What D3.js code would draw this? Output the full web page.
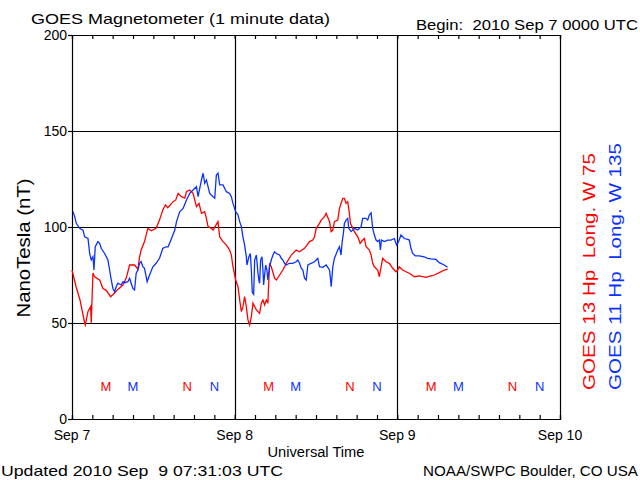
<!DOCTYPE html>
<html><head><meta charset="utf-8">
<script src="https://cdn.jsdelivr.net/npm/d3@7"></script>
<style>body{margin:0;background:#fff}svg{display:block}text{font-family:"Liberation Sans",Arial,sans-serif}</style>
</head><body><svg id="c" width="640" height="480"></svg>
<script>
// Hours since 2010 Sep 7 00:00 UTC
const hours13 = [0.0,0.59,1.18,1.47,1.87,1.96,2.36,2.75,2.84,3.09,3.34,4.08,4.56,5.05,5.70,6.29,6.77,7.51,8.0,8.50,9.23,9.72,9.97,10.20,10.70,11.19,11.68,12.41,12.91,13.40,13.80,14.13,14.92,15.31,15.65,16.15,16.64,16.89,17.37,17.86,18.36,18.74,19.10,19.58,19.83,20.07,20.57,20.81,21.54,21.79,22.28,22.78,23.26,23.51,23.75,24.15,24.49,24.74,24.99,25.22,25.47,25.72,25.96,26.21,26.46,26.70,27.20,27.68,27.93,28.17,28.42,28.67,28.90,29.15,29.40,29.89,30.14,30.63,31.11,31.61,32.35,33.08,33.57,34.31,35.04,35.53,35.78,36.03,36.52,36.76,37.25,37.50,37.99,38.24,38.48,38.72,39.21,39.46,39.95,40.19,40.44,40.68,40.93,41.08,41.42,41.67,42.16,42.51,42.89,43.14,43.39,43.88,44.13,44.37,44.61,45.10,45.35,45.60,45.84,46.34,46.82,47.31,47.81,48.05,48.29,48.78,49.28,49.77,50.50,51.24,52.23,52.96,53.45,54.19,54.92,55.41];
const values13 = [77.6,69,62,57,50,49,56,58.5,50,76,74,72.4,68,67,63.7,65.6,67.5,69.8,73.4,80.2,80.2,78,84.5,88,92.4,99.3,98,99.3,103.6,108.9,111.5,110,113.2,114.1,117.5,115.8,115,118.4,119.3,117.5,110.6,112.3,107.1,108,104.5,100.2,99.3,98.4,102.8,94.9,92.4,90.6,88,85.4,79.3,72.4,68.9,62,55.9,58.5,63.7,58.5,51.6,49,53.3,60.3,56.8,55,60.3,62,59.4,62,60.3,81.1,79.3,73.3,72.4,75,77.6,81.1,85.4,88,87.1,88.9,92.4,93.2,94.9,99.3,101.9,103.6,105.4,107.1,102.8,97.6,98.4,102.8,103.6,109.7,114.9,114.9,112.3,113.2,107.1,101.9,99.3,97.6,94.9,91.5,93.2,94,89.7,88,85.4,81.1,79.3,77.6,74.1,79.3,83.7,81.9,81.1,78.5,76.7,77.6,79.3,77.6,76.7,75.9,74.1,74.5,73.8,74.5,75,76.2,77.6,78.1];
const hours11 = [0.15,0.40,0.63,1.13,1.62,1.87,2.36,2.61,2.84,3.09,3.24,3.43,3.83,4.08,4.31,4.81,5.30,5.55,5.79,6.04,6.29,6.52,6.77,7.26,7.51,7.76,8.25,8.50,8.73,8.98,9.23,9.47,9.72,9.97,10.20,10.45,10.70,11.09,11.44,11.93,12.41,12.91,13.40,13.88,14.18,14.68,15.17,15.42,15.90,16.39,16.89,17.37,17.86,18.36,18.60,19.10,19.34,19.58,19.83,20.32,20.81,21.06,21.30,21.54,21.79,22.28,22.78,23.26,23.51,23.75,24.15,24.49,24.74,24.99,25.22,25.47,25.72,25.81,26.10,26.31,26.46,26.60,26.80,26.95,27.20,27.44,27.59,27.68,27.83,28.03,28.17,28.27,28.57,28.76,28.90,29.15,29.40,29.65,29.89,30.14,30.63,30.87,31.11,31.36,31.61,32.09,32.58,33.08,33.32,33.57,33.82,34.06,34.31,34.55,34.80,35.29,35.78,36.26,36.52,37.01,37.50,37.99,38.14,38.24,38.48,38.72,39.21,39.46,39.70,39.85,40.04,40.19,40.44,40.68,40.83,41.18,41.67,42.16,42.65,42.89,43.39,43.63,43.88,44.13,44.37,44.61,44.86,45.10,45.35,45.50,45.65,46.08,46.58,47.06,47.55,47.89,48.19,48.54,49.03,49.52,49.77,50.01,50.26,50.65,51.24,51.97,52.46,52.96,53.70,54.19,54.92,55.41];
const values11 = [108,105.4,101.9,99.3,98.4,94.9,94,86.2,82.8,84.5,77.6,89.7,92.4,91.5,88.9,86.2,82.8,77.6,72.4,68,66.3,68.9,70.7,69.8,71.5,71,71.5,73.3,70.7,68,67.2,75.9,77.6,81.1,82,79.3,78.5,71.5,75,79.3,81.1,83.7,88.9,89.7,89.7,94,98.4,102.8,108,109.7,114.1,117.5,119.3,121,115.8,124.5,128,122.8,124.5,117.5,115.8,115,127.1,128,121.9,121.9,118.4,117.5,115.8,112.3,108,106.3,102.8,100.2,94.9,90.6,84.5,80.2,84.5,86.2,77.6,66,65,82.8,85.4,75.9,72,70.7,82.8,84.5,77.6,69.8,80.2,77.6,72.4,79.3,82.8,85.4,87.1,86.2,85.4,83.7,82.8,81.1,80.2,81.1,81.1,81.9,82.8,81.1,78.5,77.6,73.3,72.4,80.2,81.1,81.9,83.7,79.3,79,80.2,77.6,73,68.9,79.3,83.7,88,89.7,85.4,92,96.7,101.9,103.6,104.5,99.3,97.6,99.3,98.4,100.2,104.5,104.5,103.6,106.3,107.4,99.3,95.8,93.2,92.4,93.2,88,93.2,92.4,93.2,93.2,94,90.6,92.4,95.8,94,93.6,93.2,88.9,86.2,85,85,84.5,83.7,83.4,83.1,81.4,80.2,79];
// Local midnight (M) / noon (N) markers, hours since start
const markerHours = [5,9,17,21,29,33,41,45,53,57,65,69];
const markerLabels = ["M","M","N","N","M","M","N","N","M","M","N","N"];
const markerSat = [13,11,13,11,13,11,13,11,13,11,13,11];
const yTicks = [0,50,100,150,200];
const dayLabels = ["Sep 7","Sep 8","Sep 9","Sep 10"];

const RED = "#ff0000", BLUE = "#0a32ff";
const t0 = Date.UTC(2010,8,7);
const toDate = h => new Date(t0 + h*3600e3);
const svg = d3.select("#c");
const L=72, R=560, T=35, B=419;
const x = d3.scaleUtc().domain([toDate(0), toDate(72)]).range([L,R]);
const y = d3.scaleLinear().domain([0,200]).range([B,T]);

// grid
svg.append("g").selectAll("line").data([50,100,150]).join("line")
  .attr("x1",L).attr("x2",R).attr("y1",d=>y(d)+0.5).attr("y2",d=>y(d)+0.5)
  .attr("stroke","#000").attr("stroke-width",1.2);
svg.append("g").selectAll("line").data([24,48]).join("line")
  .attr("x1",d=>Math.round(x(toDate(d)))+0.5).attr("x2",d=>Math.round(x(toDate(d)))+0.5).attr("y1",T).attr("y2",B)
  .attr("stroke","#000").attr("stroke-width",1.2);

// axes
const tickHours = d3.range(0,73,3).map(toDate);
const xb = d3.axisBottom(x).tickValues(tickHours).tickSize(-4).tickFormat("");
const xt = d3.axisTop(x).tickValues(tickHours).tickSize(-4).tickFormat("");
const gB = svg.append("g").attr("transform",`translate(0,${B})`).call(xb);
const gT = svg.append("g").attr("transform",`translate(0,${T})`).call(xt);
const yl = d3.axisLeft(y).tickValues(yTicks).tickSize(4).tickPadding(1).tickFormat(d3.format("d"));
const gL = svg.append("g").attr("transform",`translate(${L},0)`).call(yl);
const gR = svg.append("g").attr("transform",`translate(${R},0)`).call(d3.axisRight(y).tickValues([]).tickSize(0));
[gB,gT,gL,gR].forEach(g=>{g.selectAll("path,line").attr("stroke","#000").attr("stroke-width",1.2);});
gL.selectAll("text").attr("font-size",14).attr("fill","#000").attr("font-family","Liberation Sans");

// day labels
svg.append("g").selectAll("text").data(dayLabels).join("text")
  .attr("x",(d,i)=>x(toDate(i*24))).attr("y",440).attr("text-anchor","middle")
  .attr("font-size",14).text(d=>d);

// lines
const line = d3.line().x(d=>x(toDate(d[0]))).y(d=>y(d[1]));
svg.append("path").datum(hours13.map((h,i)=>[h,values13[i]]))
  .attr("d",line).attr("fill","none").attr("stroke",RED).attr("stroke-width",1.3);
svg.append("path").datum(hours11.map((h,i)=>[h,values11[i]]))
  .attr("d",line).attr("fill","none").attr("stroke",BLUE).attr("stroke-width",1.3);

// M/N markers
svg.append("g").selectAll("text").data(markerHours).join("text")
  .attr("x",d=>x(toDate(d))).attr("y",y(17)+5).attr("text-anchor","middle")
  .attr("font-size",13).attr("fill",(d,i)=>markerSat[i]===13?RED:BLUE).text((d,i)=>markerLabels[i]);

// texts
svg.append("text").attr("x",31).attr("y",24).attr("font-size",15).attr("textLength",299).attr("lengthAdjust","spacingAndGlyphs").text("GOES Magnetometer (1 minute data)");
svg.append("text").attr("x",416).attr("y",30).attr("font-size",14).attr("xml:space","preserve").attr("textLength",222).attr("lengthAdjust","spacingAndGlyphs").text("Begin:  2010 Sep 7 0000 UTC");
svg.append("text").attr("x",316).attr("y",457).attr("text-anchor","middle").attr("font-size",14).attr("textLength",97).attr("lengthAdjust","spacingAndGlyphs").text("Universal Time");
svg.append("text").attr("x",1).attr("y",476).attr("font-size",15).attr("xml:space","preserve").attr("textLength",282).attr("lengthAdjust","spacingAndGlyphs").text("Updated 2010 Sep  9 07:31:03 UTC");
svg.append("text").attr("x",423).attr("y",476).attr("font-size",15).attr("textLength",215).attr("lengthAdjust","spacingAndGlyphs").text("NOAA/SWPC Boulder, CO USA");
svg.append("text").attr("transform","translate(30,248) rotate(-90)").attr("text-anchor","middle").attr("font-size",19).attr("textLength",139).attr("lengthAdjust","spacingAndGlyphs").text("NanoTesla (nT)");
svg.append("text").attr("transform","translate(595,390) rotate(-90)").attr("font-size",16).attr("fill",RED).attr("xml:space","preserve").attr("textLength",237).attr("lengthAdjust","spacingAndGlyphs").text("GOES 13 Hp  Long. W 75");
svg.append("text").attr("transform","translate(621,390) rotate(-90)").attr("font-size",16).attr("fill",BLUE).attr("xml:space","preserve").attr("textLength",247).attr("lengthAdjust","spacingAndGlyphs").text("GOES 11 Hp  Long. W 135");
</script></body></html>
